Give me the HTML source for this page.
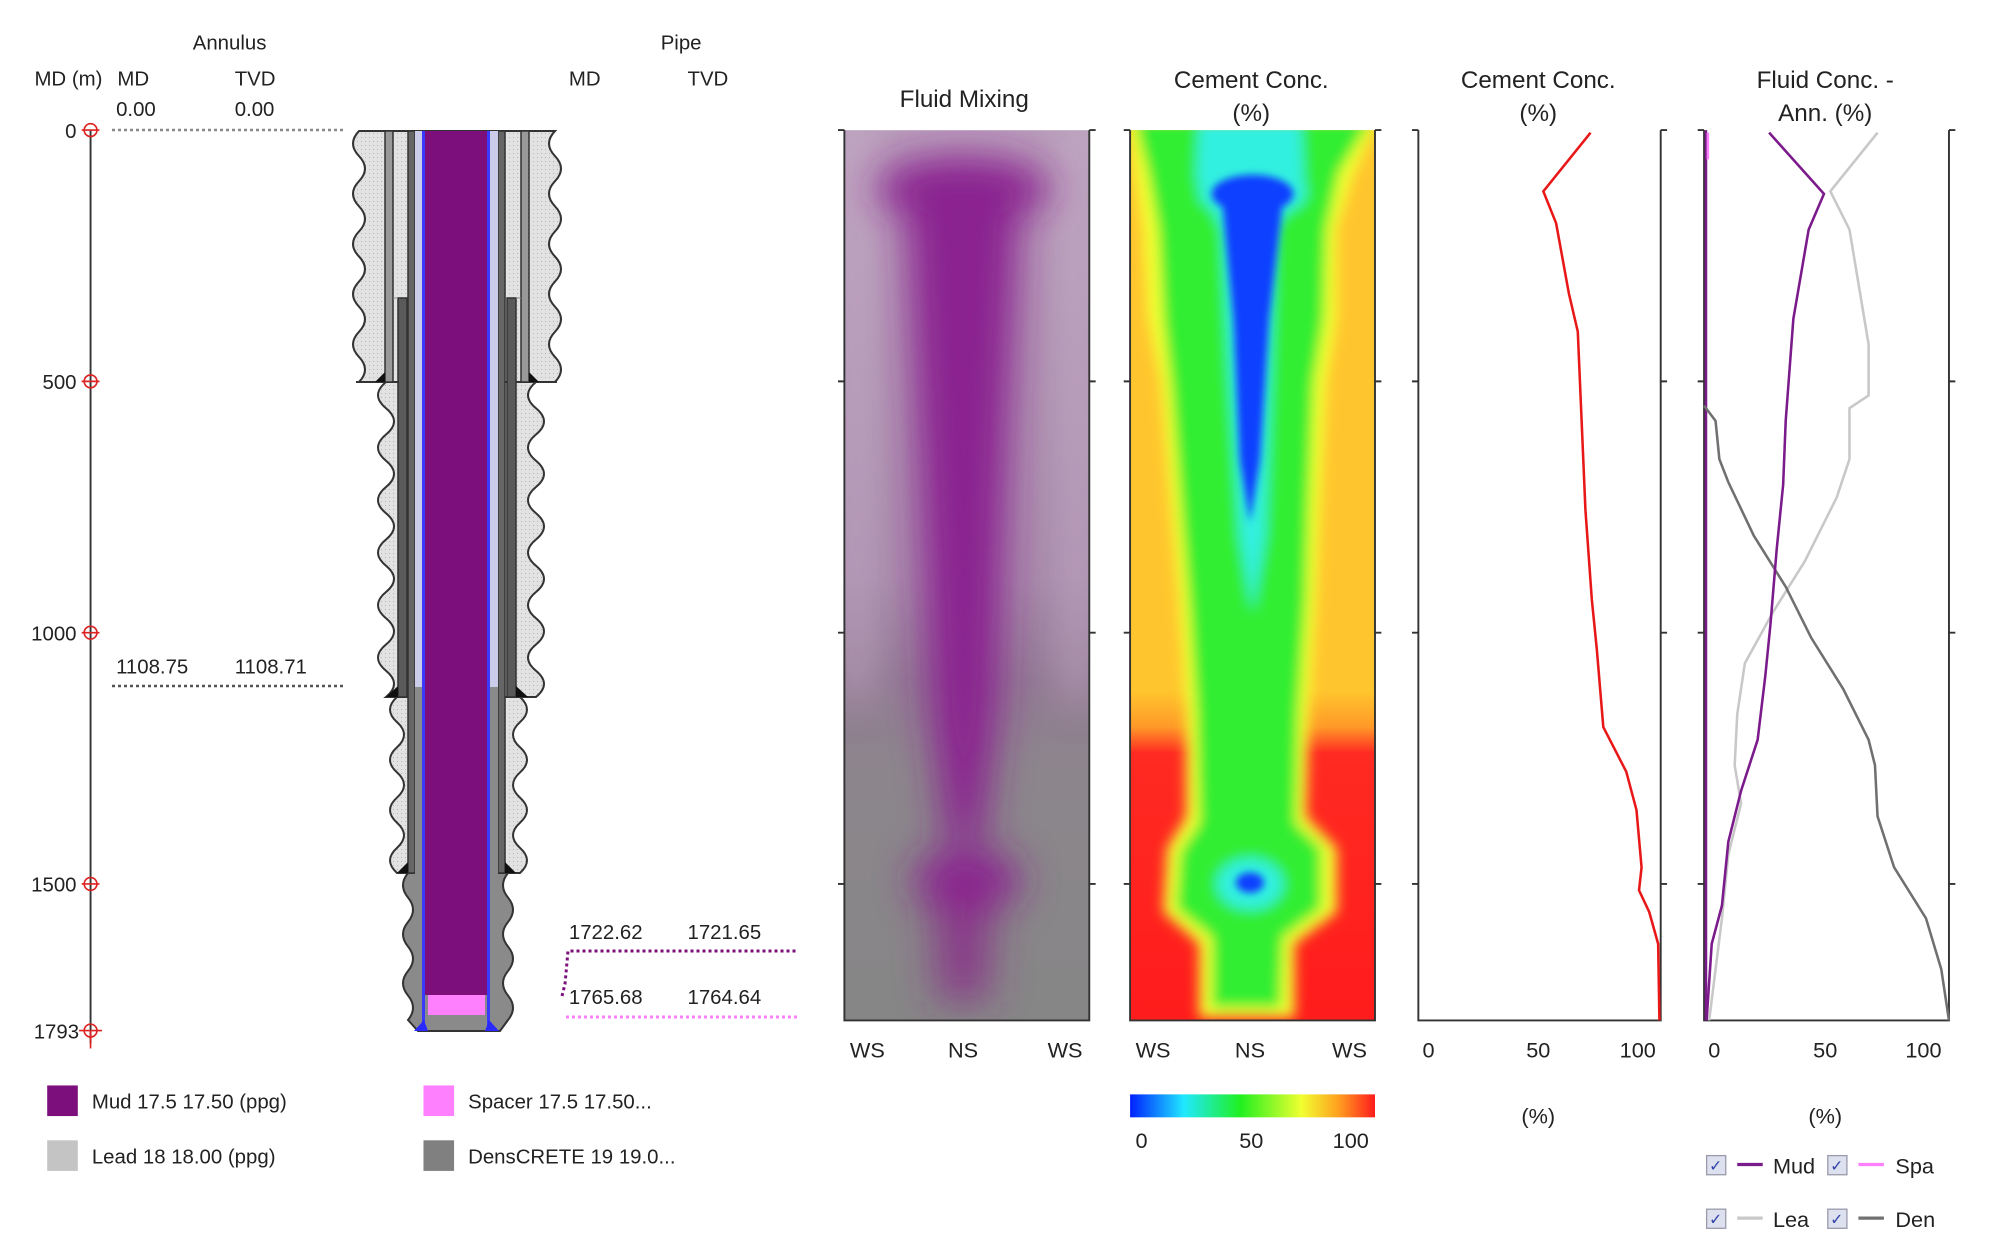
<!DOCTYPE html>
<html><head><meta charset="utf-8"><style>
html,body{margin:0;padding:0;background:#fff;}
svg{display:block;font-family:"Liberation Sans",sans-serif;}
</style></head><body>
<svg width="1998" height="1246" viewBox="0 0 1998 1246" xmlns="http://www.w3.org/2000/svg">
<defs>
<pattern id="dots" width="4" height="4" patternUnits="userSpaceOnUse"><rect width="4" height="4" fill="#e2e2e2"/><rect x="1" y="1" width="1" height="1" fill="#b8b8b8"/></pattern>
<filter id="b1" x="-30%" y="-20%" width="160%" height="140%"><feGaussianBlur stdDeviation="15"/></filter>
<filter id="b2" x="-20%" y="-20%" width="140%" height="140%"><feGaussianBlur stdDeviation="5"/></filter>
<filter id="b3" x="-20%" y="-20%" width="140%" height="140%"><feGaussianBlur stdDeviation="3"/></filter>
<clipPath id="cpFM"><rect x="662" y="102" width="192" height="698"/></clipPath>
<clipPath id="cpCC"><rect x="886" y="102" width="192" height="698"/></clipPath>
<linearGradient id="fmBase" x1="0" y1="0" x2="0" y2="1">
<stop offset="0" stop-color="#b89cba"/><stop offset="0.5" stop-color="#a88aab"/><stop offset="0.62" stop-color="#927a94"/><stop offset="0.72" stop-color="#8c868c"/><stop offset="1" stop-color="#868686"/></linearGradient>
<linearGradient id="ccBase" x1="0" y1="0" x2="0" y2="1">
<stop offset="0" stop-color="#ffc52e"/><stop offset="0.63" stop-color="#ffc52e"/><stop offset="0.67" stop-color="#ff9a28"/><stop offset="0.7" stop-color="#ff2a22"/><stop offset="1" stop-color="#ff1c1c"/></linearGradient>
<linearGradient id="cbar" x1="0" y1="0" x2="1" y2="0">
<stop offset="0" stop-color="#0020ff"/><stop offset="0.22" stop-color="#20e8ff"/><stop offset="0.45" stop-color="#20f020"/><stop offset="0.7" stop-color="#f0ff30"/><stop offset="0.85" stop-color="#ffa020"/><stop offset="1" stop-color="#ff1c1c"/></linearGradient>
</defs>

<!-- ===== Wellbore (original coords) ===== -->
<path d="M408,873 q-10,12.25 0,24.5 t0,24.5 t0,24.5 t0,24.5 t0,24.5 t0,24.5 L418,1031 L500,1031 L508,1020 q10,-12.25 0,-24.5 t0,-24.5 t0,-24.5 t0,-24.5 t0,-24.5 t0,-24.5 Z" fill="#8a8a8a" stroke="#333" stroke-width="2"/>
<path d="M397,697 q-14,12.57 0,25.14 t0,25.14 t0,25.14 t0,25.14 t0,25.14 t0,25.14 t0,25.14 L520,873 q14,-12.57 0,-25.14 t0,-25.14 t0,-25.14 t0,-25.14 t0,-25.14 t0,-25.14 t0,-25.14 Z" fill="url(#dots)" stroke="#333" stroke-width="2"/>
<path d="M386,382 q-16,13.125 0,26.25 t0,26.25 t0,26.25 t0,26.25 t0,26.25 t0,26.25 t0,26.25 t0,26.25 t0,26.25 t0,26.25 t0,26.25 t0,26.25 L536,697 q16,-13.125 0,-26.25 t0,-26.25 t0,-26.25 t0,-26.25 t0,-26.25 t0,-26.25 t0,-26.25 t0,-26.25 t0,-26.25 t0,-26.25 t0,-26.25 t0,-26.25 Z" fill="url(#dots)" stroke="#333" stroke-width="2"/>
<path d="M359,131 q-12,12.55 0,25.1 t0,25.1 t0,25.1 t0,25.1 t0,25.1 t0,25.1 t0,25.1 t0,25.1 t0,25.1 t0,25.1 L555,382 q12,-12.55 0,-25.1 t0,-25.1 t0,-25.1 t0,-25.1 t0,-25.1 t0,-25.1 t0,-25.1 t0,-25.1 t0,-25.1 t0,-25.1 Z" fill="url(#dots)" stroke="#333" stroke-width="2"/>
<line x1="356" y1="382" x2="386" y2="382" stroke="#333" stroke-width="2"/><line x1="528" y1="382" x2="557" y2="382" stroke="#333" stroke-width="2"/>
<rect x="385" y="131" width="8" height="251" fill="#999" stroke="#333" stroke-width="1.5"/>
<rect x="521" y="131" width="8" height="251" fill="#999" stroke="#333" stroke-width="1.5"/>
<rect x="398" y="298" width="9" height="399" fill="#5a5a5a" stroke="#333" stroke-width="1.5"/>
<rect x="507" y="298" width="9" height="399" fill="#5a5a5a" stroke="#333" stroke-width="1.5"/>
<line x1="393" y1="298" x2="398" y2="298" stroke="#888"/><line x1="516" y1="298" x2="521" y2="298" stroke="#888"/>
<rect x="408" y="131" width="7" height="742" fill="#666" stroke="#333" stroke-width="1.5"/>
<rect x="498" y="131" width="7" height="742" fill="#666" stroke="#333" stroke-width="1.5"/>
<path d="M385,382 L375,382 L385,372 Z M529,382 L539,382 L529,372 Z" fill="#111"/>
<path d="M398,697 L386,697 L398,686 Z M516,697 L528,697 L516,686 Z" fill="#111"/>
<path d="M408,873 L397,873 L408,862 Z M505,873 L516,873 L505,862 Z" fill="#111"/>
<rect x="415" y="131" width="8" height="556" fill="#cbcbea"/><rect x="490" y="131" width="8" height="556" fill="#cbcbea"/>
<rect x="415" y="687" width="8" height="338" fill="#8a8a8a"/><rect x="490" y="687" width="8" height="338" fill="#8a8a8a"/>
<rect x="423" y="131" width="67" height="894" fill="#8a8a8a"/>
<rect x="425" y="131" width="62" height="864" fill="#7d0f7d"/>
<rect x="428" y="995" width="57" height="20" fill="#ff80ff"/>
<rect x="422" y="131" width="3" height="894" fill="#3a3aff"/><rect x="487" y="131" width="3" height="894" fill="#3a3aff"/>
<path d="M414,1031 L424,1020 L428,1031 Z M485,1031 L489,1020 L499,1031 Z" fill="#2a2aff"/>

<line x1="112" y1="130" x2="345" y2="130" stroke="#888" stroke-width="2.5" stroke-dasharray="3,3"/>
<line x1="112" y1="686" x2="345" y2="686" stroke="#555" stroke-width="2.5" stroke-dasharray="3,3"/>
<polyline points="562,996 565,984 568,951 797,951" fill="none" stroke="#7d0f7d" stroke-width="3" stroke-dasharray="3,3"/>
<line x1="566" y1="1017" x2="797" y2="1017" stroke="#ff80ff" stroke-width="3" stroke-dasharray="3,3"/>

<!-- ===== display-coordinate group ===== -->
<g transform="scale(1.2755)" font-size="16" fill="#222">
<text x="180" y="39" text-anchor="middle">Annulus</text>
<text x="27" y="67">MD (m)</text><text x="92" y="67">MD</text><text x="184" y="67">TVD</text>
<text x="91" y="91">0.00</text><text x="184" y="91">0.00</text>
<text x="534" y="39" text-anchor="middle">Pipe</text>
<text x="446" y="67">MD</text><text x="539" y="67">TVD</text>
<text x="91" y="528">1108.75</text><text x="184" y="528">1108.71</text>
<text x="446" y="736">1722.62</text><text x="539" y="736">1721.65</text>
<text x="446" y="787">1765.68</text><text x="539" y="787">1764.64</text>

<line x1="71" y1="102" x2="71" y2="818" stroke="#333" stroke-width="1.5"/>
<g fill="none" stroke="#d22" stroke-width="1.3">
<circle cx="71" cy="102" r="5"/><line x1="64" y1="102" x2="78" y2="102"/>
<circle cx="71" cy="299" r="5"/><line x1="64" y1="299" x2="78" y2="299"/>
<circle cx="71" cy="496" r="5"/><line x1="64" y1="496" x2="78" y2="496"/>
<circle cx="71" cy="693" r="5"/><line x1="64" y1="693" x2="78" y2="693"/>
<circle cx="71" cy="808" r="5"/><line x1="62" y1="808" x2="80" y2="808"/><line x1="71" y1="808" x2="71" y2="822"/>
</g>
<g text-anchor="end"><text x="60" y="108">0</text><text x="60" y="305">500</text><text x="60" y="502">1000</text><text x="60" y="699">1500</text><text x="62" y="814">1793</text></g>

<rect x="37" y="851" width="24" height="24" fill="#7d0f7d"/><text x="72" y="869">Mud 17.5 17.50 (ppg)</text>
<rect x="37" y="894" width="24" height="24" fill="#c4c4c4"/><text x="72" y="912">Lead 18 18.00 (ppg)</text>
<rect x="332" y="851" width="24" height="24" fill="#ff80ff"/><text x="367" y="869">Spacer 17.5 17.50...</text>
<rect x="332" y="894" width="24" height="24" fill="#808080"/><text x="367" y="912">DensCRETE 19 19.0...</text>

<g font-size="19" text-anchor="middle">
<text x="756" y="84">Fluid Mixing</text>
<text x="981" y="69">Cement Conc.</text><text x="981" y="95">(%)</text>
<text x="1206" y="69">Cement Conc.</text><text x="1206" y="95">(%)</text>
<text x="1431" y="69">Fluid Conc. -</text><text x="1431" y="95">Ann. (%)</text>
</g>

<g clip-path="url(#cpFM)">
<rect x="662" y="102" width="192" height="698" fill="url(#fmBase)"/>
<g filter="url(#b1)" opacity="0.55">
<rect x="660" y="90" width="22" height="460" fill="#cdb8cd"/><rect x="834" y="90" width="22" height="460" fill="#cdb8cd"/>
</g>
<g filter="url(#b1)">
<ellipse cx="755" cy="148" rx="68" ry="26" fill="#8a2090"/>
<polygon points="710,150 800,150 790,350 782,560 770,660 742,660 730,560 720,350" fill="#8a2090"/>
<ellipse cx="758" cy="690" rx="42" ry="24" fill="#8a2090"/>
<polygon points="730,700 780,700 775,785 735,785" fill="#8a2a8a" opacity="0.8"/>
</g>
</g>
<g clip-path="url(#cpCC)">
<rect x="886" y="102" width="192" height="698" fill="url(#ccBase)"/>
<g filter="url(#b2)">
<polygon points="884,95 1080,95 1060,140 1048,180 1048,250 1040,300 1035,400 1032,470 1026,560 1024,640 1048,665 1048,715 1015,740 1015,798 940,798 940,740 912,715 915,665 930,640 930,560 924,470 918,400 910,300 900,250 896,180 890,140" fill="#f4ff30"/>
<polygon points="890,95 1074,95 1050,135 1040,180 1038,250 1030,300 1026,400 1024,470 1018,560 1016,645 1036,665 1036,712 1006,735 1004,790 950,790 950,735 922,712 925,668 940,645 938,560 932,470 926,400 918,300 912,250 908,180 900,135" fill="#30ee30"/>
<polygon points="940,95 1020,95 1022,140 1000,180 996,300 992,420 982,480 972,420 964,300 958,180 938,140" fill="#30f0e0"/>
<ellipse cx="982" cy="150" rx="42" ry="22" fill="#30f0e0"/>
<ellipse cx="980" cy="693" rx="26" ry="20" fill="#30f0e0"/>
</g>
<g filter="url(#b3)">
<ellipse cx="982" cy="152" rx="32" ry="15" fill="#1040ff"/>
<polygon points="958,155 1006,155 995,250 988,360 980,410 972,360 967,250" fill="#1040ff"/>
<ellipse cx="980" cy="692" rx="11" ry="8" fill="#1040ff"/>
</g>
</g>

<g stroke="#333" stroke-width="1.5" fill="none">
<path d="M662,102 V800 H854 V102"/>
<path d="M886,102 V800 H1078 V102"/>
<path d="M1112,102 V800 H1302 V102"/>
<path d="M1336,102 V800 H1528 V102"/>
<path d="M657,102h5 M657,299h5 M657,496h5 M657,693h5 M854,102h5 M854,299h5 M854,496h5 M854,693h5"/>
<path d="M881,102h5 M881,299h5 M881,496h5 M881,693h5 M1078,102h5 M1078,299h5 M1078,496h5 M1078,693h5"/>
<path d="M1107,102h5 M1107,299h5 M1107,496h5 M1107,693h5 M1302,102h5 M1302,299h5 M1302,496h5 M1302,693h5"/>
<path d="M1331,102h5 M1331,299h5 M1331,496h5 M1331,693h5 M1528,102h5 M1528,299h5 M1528,496h5 M1528,693h5"/>
</g>

<g font-size="17" text-anchor="middle">
<text x="680" y="829">WS</text><text x="755" y="829">NS</text><text x="835" y="829">WS</text>
<text x="904" y="829">WS</text><text x="980" y="829">NS</text><text x="1058" y="829">WS</text>
<text x="1120" y="829">0</text><text x="1206" y="829">50</text><text x="1284" y="829">100</text>
<text x="1344" y="829">0</text><text x="1431" y="829">50</text><text x="1508" y="829">100</text>
<text x="895" y="900">0</text><text x="981" y="900">50</text><text x="1059" y="900">100</text>
<text x="1206" y="881">(%)</text><text x="1431" y="881">(%)</text>
</g>
<rect x="886" y="858" width="192" height="18" fill="url(#cbar)"/>

<polyline fill="none" stroke="#e81818" stroke-width="2" points="1247,104 1210,150 1220,175 1230,230 1237,260 1240,330 1243,400 1248,470 1252,510 1257,570 1275,605 1283,635 1287,680 1285,698 1293,715 1300,740 1301,800"/>

<line x1="1337.5" y1="102" x2="1337.5" y2="800" stroke="#7b1a8a" stroke-width="2"/>
<line x1="1339" y1="104" x2="1339" y2="125" stroke="#ff80ff" stroke-width="2"/>
<polyline fill="none" stroke="#c8c8c8" stroke-width="2" points="1472,104 1435,150 1450,180 1460,240 1465,270 1465,310 1450,320 1450,360 1440,390 1415,440 1390,480 1368,520 1362,560 1360,600 1365,630 1355,670 1350,720 1340,800"/>
<polyline fill="none" stroke="#707070" stroke-width="2" points="1336,318 1345,330 1348,360 1355,378 1375,420 1400,460 1405,470 1420,500 1445,540 1455,560 1465,580 1470,600 1472,640 1485,680 1510,720 1522,760 1528,800"/>
<polyline fill="none" stroke="#7b1a8a" stroke-width="2" points="1387,104 1430,152 1418,180 1406,250 1400,330 1398,380 1393,430 1388,490 1384,530 1378,580 1365,620 1355,660 1352,690 1350,710 1342,740 1338,800"/>

<g stroke="#99a" stroke-width="1" fill="#dde0ee">
<rect x="1338" y="906" width="15" height="15"/><rect x="1433" y="906" width="15" height="15"/>
<rect x="1338" y="948" width="15" height="15"/><rect x="1433" y="948" width="15" height="15"/>
</g>
<g fill="#3344aa" font-size="12" text-anchor="middle"><text x="1345" y="918">✓</text><text x="1440" y="918">✓</text><text x="1345" y="960">✓</text><text x="1440" y="960">✓</text></g>
<line x1="1362" y1="913" x2="1382" y2="913" stroke="#7b1a8a" stroke-width="2.5"/>
<line x1="1457" y1="913" x2="1477" y2="913" stroke="#ff80ff" stroke-width="2.5"/>
<line x1="1362" y1="955" x2="1382" y2="955" stroke="#c8c8c8" stroke-width="2.5"/>
<line x1="1457" y1="955" x2="1477" y2="955" stroke="#707070" stroke-width="2.5"/>
<g font-size="17"><text x="1390" y="920">Mud</text><text x="1486" y="920">Spa</text><text x="1390" y="962">Lea</text><text x="1486" y="962">Den</text></g>
</g>
</svg>
</body></html>
